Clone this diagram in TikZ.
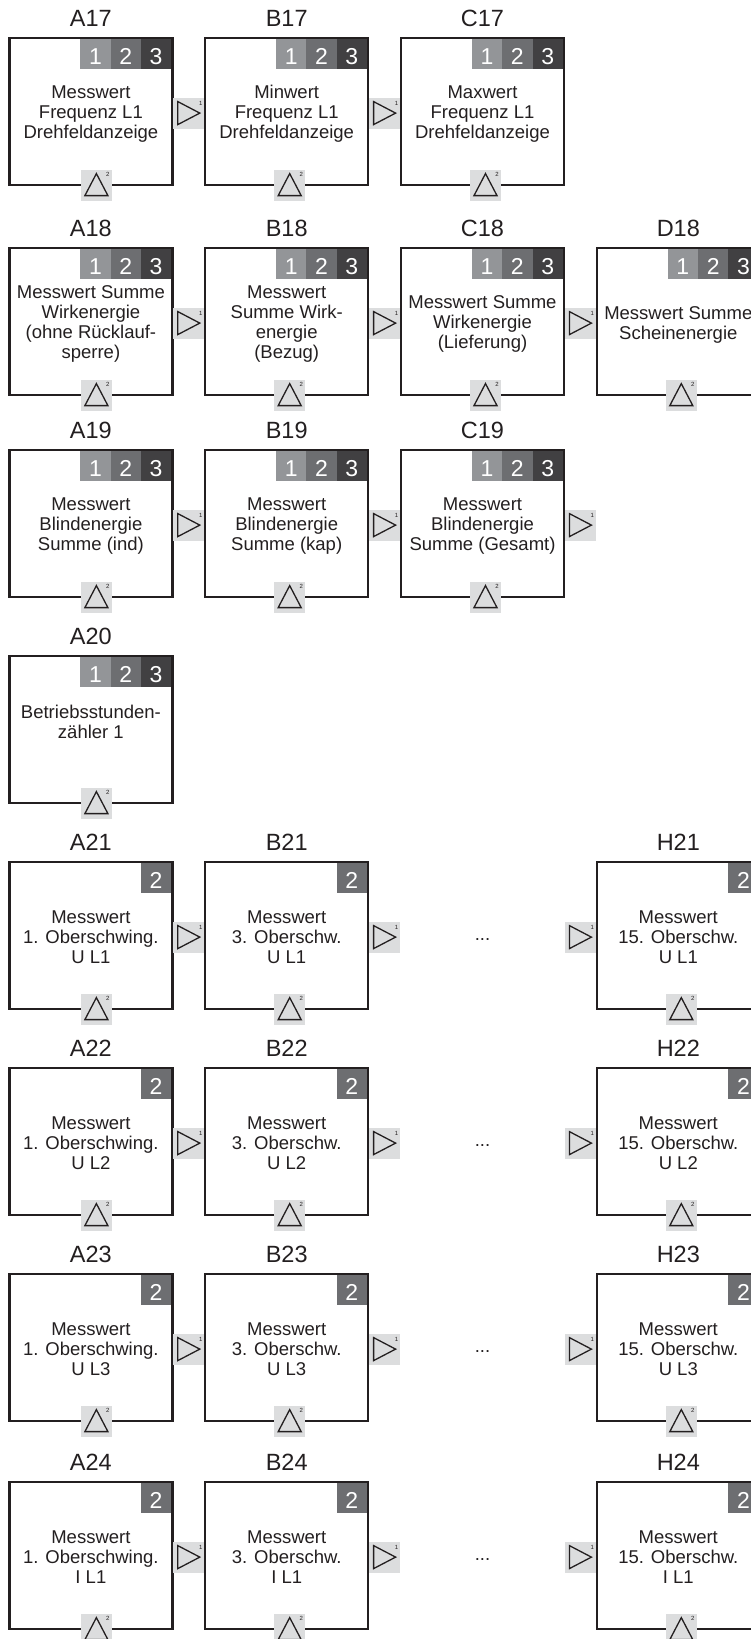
\documentclass[tikz,border=0pt]{standalone}
\usepackage{fontspec}
\setmainfont{Liberation Sans}
\usetikzlibrary{calc}
\definecolor{frame}{RGB}{35,31,32}
\definecolor{cone}{RGB}{147,149,152}
\definecolor{ctwo}{RGB}{109,110,113}
\definecolor{cthree}{RGB}{65,64,66}
\definecolor{conn}{RGB}{220,221,222}
\tikzset{
  mbox/.style={draw=frame, line width=2.4pt, minimum width=163pt, minimum height=147pt, inner sep=0pt, outer sep=0pt, anchor=north west},
  ttl/.style={font=\fontsize{23.5}{23.5}\selectfont, text=frame, inner sep=0pt, anchor=base},
  bodytext/.style={font=\fontsize{18.5}{20}\selectfont, text=frame, align=center, inner sep=0pt},
  cell/.style={minimum width=30.3pt, minimum height=30pt, inner sep=0pt, outer sep=0pt, text=white, font=\fontsize{23}{23}\selectfont, text height=20pt, text depth=0pt, anchor=north east},
  conbox/.style={fill=conn, minimum width=31pt, minimum height=31pt, inner sep=0pt, outer sep=0pt},
  tri/.style={draw=frame, line width=1.3pt, line join=miter},
  supnum/.style={font=\fontsize{6}{6}\selectfont, text=frame, inner sep=0pt},
}
\newcommand\drawbox[6]{%
  \node[mbox] (#1) at (#2,#3) {};
  \node[ttl] (#1-t) at ([yshift=12pt]#1.north) {#4};
  \node[bodytext] (#1-x) at ([yshift=#6]#1.center) {#5};
}
\newcommand\badgefull[1]{%
  \node[cell, fill=cthree] (#1-c3) at ([xshift=-1.2pt,yshift=-1.2pt]#1.north east) {3};
  \node[cell, fill=ctwo] (#1-c2) at (#1-c3.north west) {2};
  \node[cell, fill=cone] (#1-c1) at (#1-c2.north west) {1};
}
\newcommand\badgetwo[1]{%
  \node[cell, fill=ctwo] (#1-c2) at ([xshift=-1.2pt,yshift=-1.2pt]#1.north east) {2};
}
\newcommand\rconn[1]{%
  \node[conbox] (#1-r) at ([xshift=16.4pt,yshift=-1.5pt]#1.east) {};
  \draw[tri] ([xshift=-11pt,yshift=11.5pt]#1-r.center) -- ([xshift=11pt]#1-r.center) -- ([xshift=-11pt,yshift=-11.5pt]#1-r.center) -- cycle;
  \node[supnum] (#1-rs) at ([xshift=12pt,yshift=10pt]#1-r.center) {1};
}
\newcommand\lconn[1]{%
  \node[conbox] (#1-l) at ([xshift=-16.4pt,yshift=-1.5pt]#1.west) {};
  \draw[tri] ([xshift=-11pt,yshift=11.5pt]#1-l.center) -- ([xshift=11pt]#1-l.center) -- ([xshift=-11pt,yshift=-11.5pt]#1-l.center) -- cycle;
  \node[supnum] (#1-ls) at ([xshift=12pt,yshift=10pt]#1-l.center) {1};
}
\newcommand\uconn[2]{%
  \node[conbox] (#1-u) at ([xshift=#2]#1.south) {};
  \draw[tri] ([xshift=-11.5pt,yshift=-10.5pt]#1-u.center) -- ([yshift=11.5pt]#1-u.center) -- ([xshift=11.5pt,yshift=-10.5pt]#1-u.center) -- cycle;
  \node[supnum] (#1-us) at ([xshift=11.5pt,yshift=10.5pt]#1-u.center) {2};
}
\begin{document}
\begin{tikzpicture}[x=1pt,y=-1pt]
\useasboundingbox (0,0) rectangle (751,1639);
\fill[white] (0,0) rectangle (751,1639);
\clip (0,0) rectangle (751,1639);
% row 17
\drawbox{A17}{9.4}{38.1}{A17}{Messwert\\Frequenz L1\\Drehfeldanzeige}{-2pt}
\drawbox{B17}{205.2}{38.1}{B17}{Minwert\\Frequenz L1\\Drehfeldanzeige}{-2pt}
\drawbox{C17}{401.0}{38.1}{C17}{Maxwert\\Frequenz L1\\Drehfeldanzeige}{-2pt}
% row 18
\drawbox{A18}{9.4}{248.1}{A18}{Messwert Summe\\Wirkenergie\\(ohne Rücklauf-\\sperre)}{-2pt}
\drawbox{B18}{205.2}{248.1}{B18}{Messwert\\Summe Wirk-\\energie\\(Bezug)}{-2pt}
\drawbox{C18}{401.0}{248.1}{C18}{Messwert Summe\\Wirkenergie\\(Lieferung)}{-2pt}
\drawbox{D18}{596.8}{248.1}{D18}{Messwert Summe\\Scheinenergie}{-3pt}
% row 19
\drawbox{A19}{9.4}{450.1}{A19}{Messwert\\Blindenergie\\Summe (ind)}{-2pt}
\drawbox{B19}{205.2}{450.1}{B19}{Messwert\\Blindenergie\\Summe (kap)}{-2pt}
\drawbox{C19}{401.0}{450.1}{C19}{Messwert\\Blindenergie\\Summe (Gesamt)}{-2pt}
% row 20
\drawbox{A20}{9.4}{656.1}{A20}{Betriebsstunden-\\zähler 1}{8pt}
% rows 21-24
\drawbox{A21}{9.4}{862.1}{A21}{Messwert\\1. Oberschwing.\\U L1}{-2pt}
\drawbox{B21}{205.2}{862.1}{B21}{Messwert\\3. Oberschw.\\U L1}{-2pt}
\drawbox{H21}{596.8}{862.1}{H21}{Messwert\\15. Oberschw.\\U L1}{-2pt}
\drawbox{A22}{9.4}{1068.1}{A22}{Messwert\\1. Oberschwing.\\U L2}{-2pt}
\drawbox{B22}{205.2}{1068.1}{B22}{Messwert\\3. Oberschw.\\U L2}{-2pt}
\drawbox{H22}{596.8}{1068.1}{H22}{Messwert\\15. Oberschw.\\U L2}{-2pt}
\drawbox{A23}{9.4}{1274.1}{A23}{Messwert\\1. Oberschwing.\\U L3}{-2pt}
\drawbox{B23}{205.2}{1274.1}{B23}{Messwert\\3. Oberschw.\\U L3}{-2pt}
\drawbox{H23}{596.8}{1274.1}{H23}{Messwert\\15. Oberschw.\\U L3}{-2pt}
\drawbox{A24}{9.4}{1482.1}{A24}{Messwert\\1. Oberschwing.\\I L1}{-2pt}
\drawbox{B24}{205.2}{1482.1}{B24}{Messwert\\3. Oberschw.\\I L1}{-2pt}
\drawbox{H24}{596.8}{1482.1}{H24}{Messwert\\15. Oberschw.\\I L1}{-2pt}
% badges
\foreach \b in {A17,B17,C17,A18,B18,C18,D18,A19,B19,C19,A20} {\badgefull{\b}}
\foreach \b in {A21,B21,H21,A22,B22,H22,A23,B23,H23,A24,B24,H24} {\badgetwo{\b}}
% right connectors
\foreach \b in {A17,B17,A18,B18,C18,A19,B19,C19,A21,B21,A22,B22,A23,B23,A24,B24} {\rconn{\b}}
\foreach \b in {H21,H22,H23,H24} {\lconn{\b}}
% up connectors
\foreach \b in {A17,A18,A19,A20,A21,A22,A23,A24} {\uconn{\b}{5.5pt}}
\foreach \b in {B17,C17,B18,C18,D18,B19,C19,B21,H21,B22,H22,B23,H23,B24,H24} {\uconn{\b}{3pt}}
% ellipses
\foreach \r in {21,22,23,24} {
  \node[bodytext] (dots\r) at ([yshift=-2.5pt]$(B\r-r)!0.5!(H\r-l)$) {...};
}
\end{tikzpicture}
\end{document}
